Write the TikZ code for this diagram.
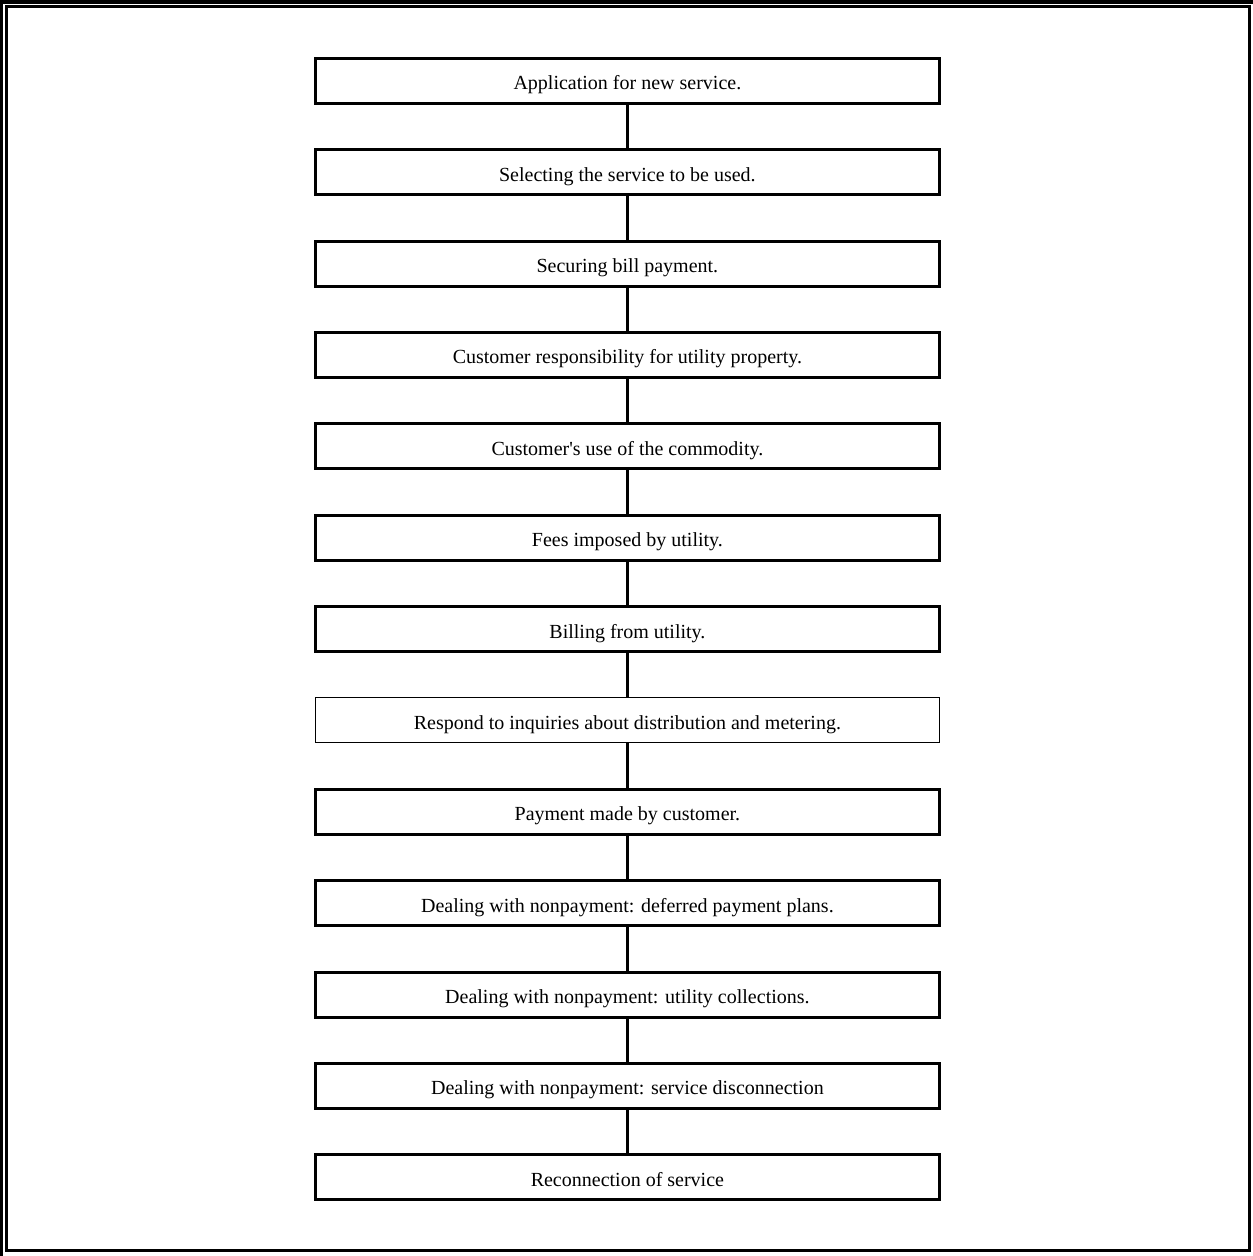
\documentclass[tikz,border=0pt]{standalone}
\usepackage{fontspec}
\setmainfont{Liberation Serif}
\begin{document}
\begin{tikzpicture}[x=1bp,y=-1bp,
  stepbox/.style={draw=black, line width=3bp, minimum width=624bp, minimum height=45bp,
    inner sep=0pt, text height=18bp, text depth=0bp, font=\fontsize{20bp}{24bp}\selectfont},
  thinbox/.style={stepbox, line width=1bp},
  link/.style={line width=3bp}]
\useasboundingbox (0,0) rectangle (1253,1256);
% page border
\draw[line width=4bp] (0,2) -- (1253,2);
\draw[line width=3bp] (1.5,0) -- (1.5,1256);
\draw[line width=3bp] (6.5,6.8) rectangle (1249.4,1250.5);
% boxes
\node[stepbox] (b1) at (627.4,80.7) {Application for new service.};
\node[stepbox] (b2) at (627.4,172.1) {Selecting the service to be used.};
\node[stepbox] (b3) at (627.4,263.5) {Securing bill payment.};
\node[stepbox] (b4) at (627.4,354.8) {Customer responsibility for utility property.};
\node[stepbox] (b5) at (627.4,446.2) {Customer\textquotesingle s use of the commodity.};
\node[stepbox] (b6) at (627.4,537.6) {Fees imposed by utility.};
\node[stepbox] (b7) at (627.4,629.0) {Billing from utility.};
\node[thinbox] (b8) at (627.4,720.4) {Respond to inquiries about distribution and metering.};
\node[stepbox] (b9) at (627.4,811.7) {Payment made by customer.};
\node[stepbox] (b10) at (627.4,903.1) {Dealing with nonpayment: deferred payment plans.};
\node[stepbox] (b11) at (627.4,994.5) {Dealing with nonpayment: utility collections.};
\node[stepbox] (b12) at (627.4,1085.9) {Dealing with nonpayment: service disconnection};
\node[stepbox] (b13) at (627.4,1177.3) {Reconnection of service};
% connectors
\foreach \a/\b in {b1/b2,b2/b3,b3/b4,b4/b5,b5/b6,b6/b7,b7/b8,b8/b9,b9/b10,b10/b11,b11/b12,b12/b13}
  \draw[link] (\a.south) -- (\b.north);
\end{tikzpicture}
\end{document}
